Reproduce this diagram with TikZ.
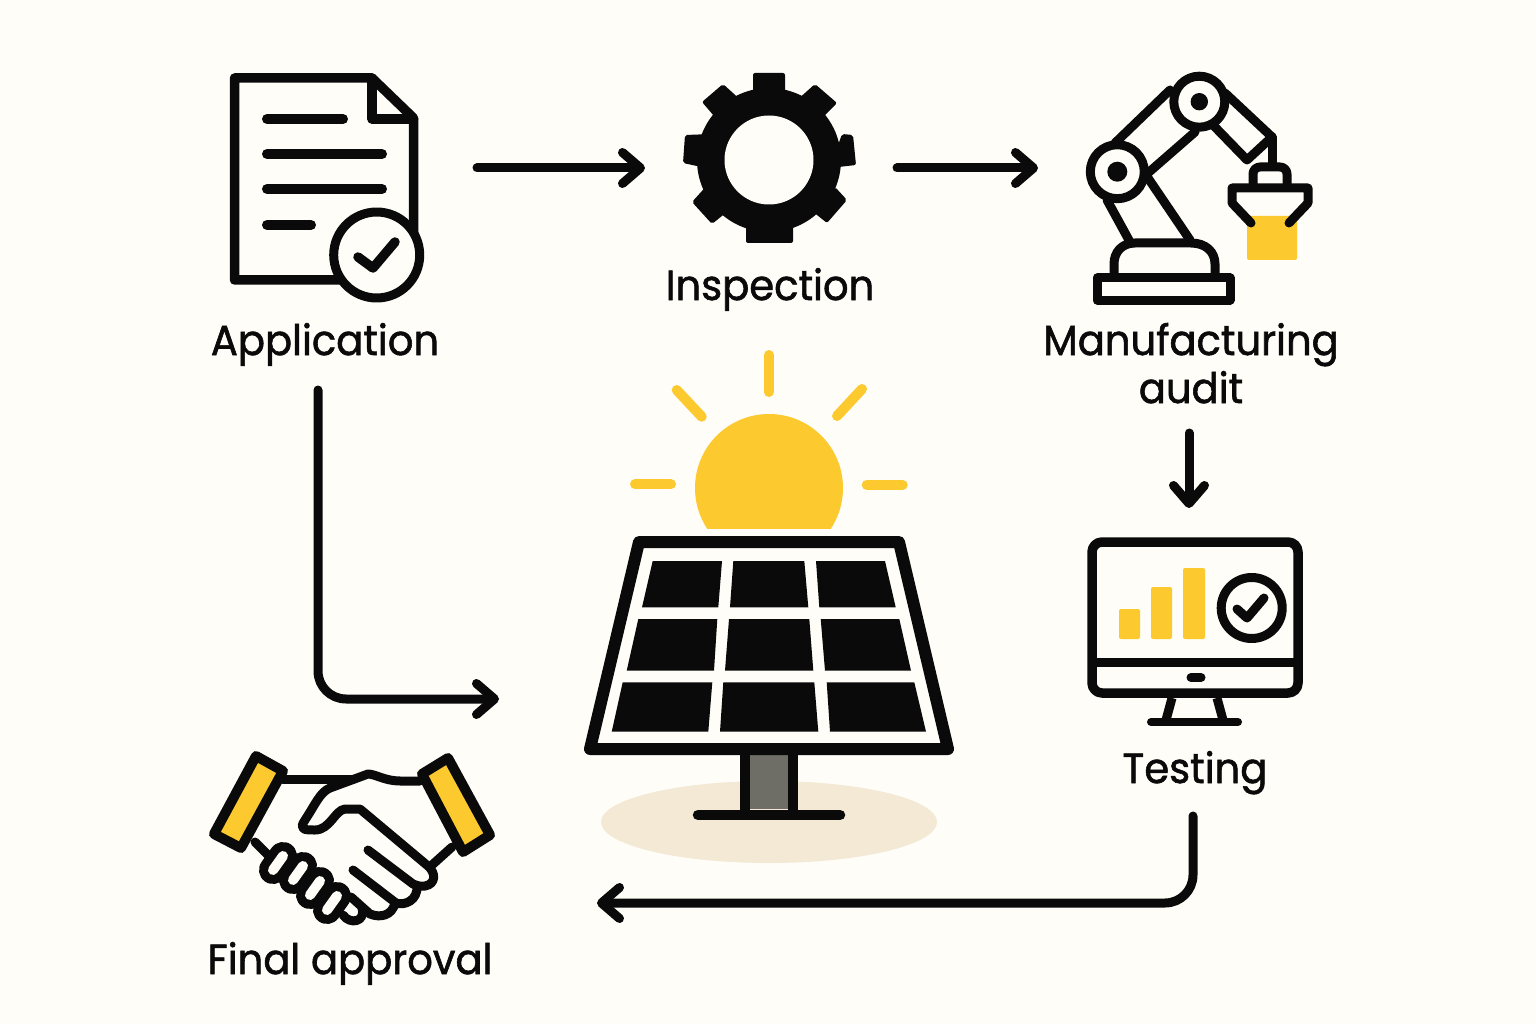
\documentclass[tikz,border=0pt]{standalone}
\usepackage{fontspec}
\setmainfont{Poppins}[FakeBold=1.4, FakeStretch=0.955]
\usepackage{xcolor}
\usepackage{tikz}
\usetikzlibrary{arrows.meta}
\definecolor{paper}{HTML}{FEFDF8}
\definecolor{ink}{HTML}{0A0A0A}
\definecolor{sunny}{HTML}{FCC92E}
\definecolor{sand}{HTML}{F3E9D5}
\definecolor{pole}{HTML}{6E6E66}
\pgfdeclarelayer{nodelayer}
\pgfdeclarelayer{edgelayer}
\pgfsetlayers{main,edgelayer,nodelayer}
\tikzset{
    none/.style = {inner sep=0pt},
    caption/.style = {inner sep=0pt, anchor=base, text=ink, font=\fontsize{42}{48}\selectfont, align=center},
    icon/.style = {draw=ink, line width=9pt, line join=round, line cap=round},
    ray/.style = {draw=sunny, line width=10pt, line cap=round},
    cell/.style = {fill=ink},
    tooth/.style = {fill=ink, rounded corners=2pt},
    flow/.style = {draw=ink, line width=9pt, line cap=round, line join=round, rounded corners=28pt,
        -{Straight Barb[length=18pt, width=31pt, line width=9pt, round]}}
}
\begin{document}
\begin{tikzpicture}[x=1pt, y=-1pt]
  \useasboundingbox [fill=paper] (0, 0) rectangle (1536, 1024);

  % document
  \draw [icon, line width=9.5pt, fill=paper] (234.5, 78) -- (372, 78) -- (413.5, 118) -- (413.5, 250) -- (376, 280) -- (234.5, 280) -- cycle;
  \draw [icon, line width=9.5pt] (372, 78) -- (372, 119) -- (413.5, 119);
  \draw [icon, line width=10pt] (267, 119) -- (343, 119);
  \draw [icon, line width=10pt] (267, 154) -- (382, 154);
  \draw [icon, line width=10pt] (267, 189) -- (382, 189);
  \draw [icon, line width=10pt] (267, 225) -- (311, 225);
  \draw [icon, fill=paper] (376.7, 255) circle (43);
  \draw [icon, line width=9.5pt] (358, 257) -- (373, 268) -- (395, 242);

  % gear
  \fill [ink] (769, 160) circle (72);
  \path [tooth] (753,73) -- (785,73) -- (785,100) -- (753,100) -- cycle;
  \path [tooth] (815,84) -- (837,103) -- (817,123) -- (796,101) -- cycle;
  \path [tooth] (842,134) -- (853,135) -- (856,165) -- (830,168) -- cycle;
  \path [tooth] (835,187) -- (847,200) -- (827,223) -- (807,207) -- cycle;
  \path [tooth] (793,215) -- (793,243) -- (746,243) -- (746,215) -- cycle;
  \path [tooth] (733,207) -- (712,224) -- (692,202) -- (711,181) -- cycle;
  \path [tooth] (706,168) -- (683,163) -- (685,135) -- (712,134) -- cycle;
  \path [tooth] (720,123) -- (702,102) -- (723,84) -- (744,103) -- cycle;
  \fill [paper] (769, 160) circle (44.5);

  % robot arm
  \fill [sunny, rounded corners=2pt] (1247, 216) rectangle (1297, 260);
  \draw [icon] (1115, 143) -- (1170, 90);
  \draw [icon] (1148, 173) -- (1195, 132);
  \draw [icon] (1225, 93) -- (1272, 137) -- (1247, 160) -- (1213, 125);
  \draw [icon] (1107, 200) -- (1130, 242);
  \draw [icon] (1148, 178) -- (1190, 240);
  \draw [icon] (1272, 137) -- (1272, 163);
  \draw [icon, fill=paper] (1117.3, 171.7) circle (27);
  \fill [ink] (1117.3, 171.7) circle (10);
  \draw [icon, fill=paper] (1199.3, 101.7) circle (25.5);
  \fill [ink] (1199.3, 101.7) circle (8.7);
  \draw [icon, rounded corners=7pt] (1253, 186) -- (1253, 167) -- (1287, 167) -- (1287, 186);
  \draw [icon] (1251, 223) -- (1232, 203) -- (1232, 188) -- (1308, 188) -- (1308, 203) -- (1289, 223);
  \draw [icon] (1114, 275) -- (1114, 264) .. controls (1114, 252) and (1122, 243) .. (1135, 243) -- (1191, 243) .. controls (1206, 243) and (1215, 252) .. (1215, 264) -- (1215, 275);
  \draw [icon] (1097, 278) rectangle (1230, 300);

  % solar panel
  \fill [sand] (769, 822) ellipse (168 and 41);
  \fill [pole] (750, 755) rectangle (788, 809);
  \draw [icon, line width=10pt, line cap=butt] (745, 755) -- (745, 812);
  \draw [icon, line width=10pt, line cap=butt] (793, 755) -- (793, 812);
  \draw [icon, line width=10.5pt] (698, 815) -- (840, 815);
  \draw [icon, line width=12pt, fill=paper] (639, 542) -- (899, 542) -- (948, 749) -- (590, 749) -- cycle;
  \path [cell] (652.7,561) -- (722,561) -- (718.3,607.3) -- (642,607.3) -- cycle;
  \path [cell] (733.3,561) -- (804.3,561) -- (808.3,607.3) -- (730,607.3) -- cycle;
  \path [cell] (816,561) -- (885,561) -- (895.7,607.3) -- (819.3,607.3) -- cycle;
  \path [cell] (638.3,619) -- (717.3,619) -- (714,670.7) -- (626.7,670.7) -- cycle;
  \path [cell] (729,619) -- (809.3,619) -- (813.3,670.7) -- (725,670.7) -- cycle;
  \path [cell] (820.7,619) -- (899.3,619) -- (911,670.7) -- (825,670.7) -- cycle;
  \path [cell] (622.7,682.3) -- (712.3,682.3) -- (708.3,731.7) -- (611.7,731.7) -- cycle;
  \path [cell] (723.3,682.3) -- (814.3,682.3) -- (818.3,731.7) -- (720,731.7) -- cycle;
  \path [cell] (826.7,682.3) -- (914.3,682.3) -- (926,731.7) -- (830,731.7) -- cycle;

  % sun
  \begin{scope}
    \clip (680, 400) rectangle (860, 528);
    \fill [sunny] (769, 488) circle (74);
  \end{scope}
  \draw [ray] (768.7, 355) -- (768.7, 392);
  \draw [ray] (676.7, 390) -- (701.7, 416.7);
  \draw [ray] (862, 389) -- (837, 416);
  \draw [ray] (635, 484.3) -- (671, 484.3);
  \draw [ray] (866.7, 484.7) -- (902.7, 484.7);

  % monitor
  \draw [icon, line width=9.5pt, rounded corners=10pt, fill=paper] (1092, 542) rectangle (1298, 693);
  \draw [icon, line width=9pt, line cap=butt] (1092, 662) -- (1298, 662);
  \draw [icon] (1191, 677.5) -- (1201, 677.5);
  \draw [icon, line cap=butt] (1172, 698) -- (1166, 720);
  \draw [icon, line cap=butt] (1217, 698) -- (1223, 720);
  \draw [icon, line width=8pt] (1151, 722) -- (1238, 722);
  \fill [sunny, rounded corners=2pt] (1119, 609) rectangle (1140, 639);
  \fill [sunny, rounded corners=2pt] (1151, 587) rectangle (1172, 639);
  \fill [sunny, rounded corners=2pt] (1183, 568) rectangle (1205, 639);
  \draw [icon] (1251.7, 608) circle (30.5);
  \draw [icon] (1237, 609) -- (1247, 618) -- (1264, 598);

  % handshake
  \fill [sunny] (256, 756) -- (283, 771) -- (241, 848) -- (214, 834) -- cycle;
  \fill [sunny] (448, 758) -- (490, 835) -- (463, 852) -- (422, 774) -- cycle;
  \draw [icon, line width=10pt] (256, 756) -- (283, 771) -- (241, 848) -- (214, 834) -- cycle;
  \draw [icon, line width=10pt] (448, 758) -- (490, 835) -- (463, 852) -- (422, 774) -- cycle;
  \draw [icon] (283, 779) -- (353, 779);
  \draw [icon] (255, 842) -- (268, 855);
  \draw [icon] (452, 847) -- (432, 865);
  \draw [icon] (420, 781) -- (400, 781) .. controls (385, 781) and (375, 774) .. (368, 774) -- (330, 788) .. controls (320, 792) and (315, 805) .. (305, 820) .. controls (298, 830) and (305, 830) .. (315, 830) .. controls (330, 830) and (335, 810) .. (345, 809) -- (360, 809) -- (428, 866) .. controls (436, 873) and (436, 884) .. (425, 886) .. controls (420, 887) and (416, 885) .. (413, 884) -- (368, 850);
  \draw [icon] (417, 886) .. controls (418, 900) and (405, 906) .. (396, 903) -- (353, 870);
  \draw [icon] (395, 903) .. controls (392, 916) and (380, 918) .. (370, 914) -- (351, 897);
  \draw [icon] (362, 908) .. controls (366, 922) and (350, 925) .. (343, 915);
  \foreach \x/\y in {278/863, 298/873, 315/888, 332/903} {
    \draw [ink, line width=28pt, line cap=round] (\x - 5, \y + 7) -- (\x + 5, \y - 7);
  }
  \foreach \x/\y in {278/863, 298/873, 315/888, 332/903} {
    \draw [paper, line width=10pt, line cap=round] (\x - 5, \y + 7) -- (\x + 5, \y - 7);
  }

  \begin{pgfonlayer}{nodelayer}
    \node [style=caption] (application) at (325, 355) {Application};
    \node [style=caption] (inspection) at (770, 300) {Inspection};
    \node [style=caption] (audit) at (1191, 403) {Manufacturing\\audit};
    \node [style=caption] (testing) at (1195, 783) {Testing};
    \node [style=caption] (approval) at (350, 974) {Final approval};
    \node [style=none] (a0) at (477, 168) {};
    \node [style=none] (a1) at (645, 168) {};
    \node [style=none] (b0) at (897, 168) {};
    \node [style=none] (b1) at (1038, 168) {};
    \node [style=none] (c0) at (1189, 433) {};
    \node [style=none] (c1) at (1189, 508) {};
    \node [style=none] (d0) at (1193, 816) {};
    \node [style=none] (d1) at (597, 903) {};
    \node [style=none] (e0) at (318, 390) {};
    \node [style=none] (e1) at (499, 699) {};
  \end{pgfonlayer}
  \begin{pgfonlayer}{edgelayer}
    \draw [style=flow] (a0.center) to (a1.center);
    \draw [style=flow] (b0.center) to (b1.center);
    \draw [style=flow] (c0.center) to (c1.center);
    \draw [style=flow] (d0.center) |- (d1.center);
    \draw [style=flow] (e0.center) |- (e1.center);
  \end{pgfonlayer}
\end{tikzpicture}
\end{document}
